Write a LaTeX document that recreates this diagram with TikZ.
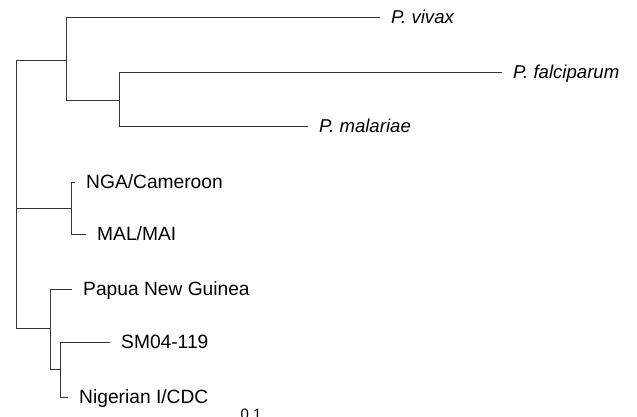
\documentclass[tikz,border=0pt]{standalone}
\usepackage{fontspec}
\setmainfont{Liberation Sans}
\begin{document}
\begin{tikzpicture}[x=1pt, y=-1pt,
	branch/.style={draw=black!80, line width=0.9pt},
	leaf/.style={anchor=west, inner xsep=11pt, inner ysep=0pt, text height=13.5pt, text depth=0pt, font=\fontsize{19.2}{22}\selectfont},
	species/.style={leaf, font=\fontsize{18.6}{22}\selectfont\itshape}]
	\useasboundingbox (0,0) rectangle (637,416);

	% inner nodes of the tree
	\coordinate (root) at (16,194);
	\coordinate (plasmo) at (66,60);
	\coordinate (falmal) at (119,100);
	\coordinate (africa) at (71,208);
	\coordinate (pacific) at (50,328);
	\coordinate (smnig) at (60,369);

	% tips
	\node (vivax) [species] at (380,17) {P. vivax};
	\node (falci) [species] at (502,72) {P. falciparum};
	\node (malar) [species] at (308,126) {P. malariae};
	\node (nga) [leaf] at (75,182) {NGA/Cameroon};
	\node (mal) [leaf] at (86,234) {MAL/MAI};
	\node (papua) [leaf] at (72,289) {Papua New Guinea};
	\node (sm) [leaf] at (110,342) {SM04-119};
	\node (nigcdc) [leaf] at (68,397) {Nigerian I/CDC};

	% scale
	\node (scale) [anchor=base, font=\fontsize{15}{18}\selectfont] at (251,419) {0.1};

	\draw[branch] (root) |- (plasmo);
	\draw[branch] (root) |- (africa);
	\draw[branch] (root) |- (pacific);
	\draw[branch] (plasmo) |- (vivax.west);
	\draw[branch] (plasmo) |- (falmal);
	\draw[branch] (falmal) |- (falci.west);
	\draw[branch] (falmal) |- (malar.west);
	\draw[branch] (africa) |- (nga.west);
	\draw[branch] (africa) |- (mal.west);
	\draw[branch] (pacific) |- (papua.west);
	\draw[branch] (pacific) |- (smnig);
	\draw[branch] (smnig) |- (sm.west);
	\draw[branch] (smnig) |- (nigcdc.west);
\end{tikzpicture}
\end{document}
